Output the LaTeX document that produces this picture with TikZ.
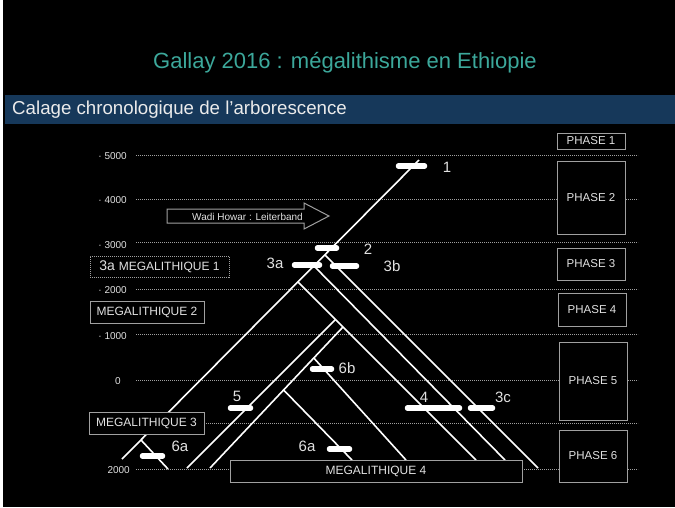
\documentclass[tikz,border=0pt]{standalone}
\usepackage{fontspec}
\setmainfont{Liberation Sans}
\definecolor{titlecol}{RGB}{60,168,155}
\definecolor{bannercol}{RGB}{22,56,90}
\definecolor{linegray}{RGB}{160,160,160}
\definecolor{txtgray}{RGB}{225,225,225}
\begin{document}
\begin{tikzpicture}[x=1pt,y=-1pt,
  tree/.style={white, line width=1.6pt},
  bar/.style={white, line width=5.5pt, line cap=round},
  grid/.style={linegray, line width=0.8pt, dash pattern=on 0.8pt off 1.2pt},
  pbox/.style={draw=linegray, line width=1pt, fill=black, text=txtgray, inner sep=0pt, font=\fontsize{11.5}{11.5}\selectfont},
  mbox/.style={draw=linegray, line width=1pt, fill=black, text=txtgray, inner sep=0pt, font=\fontsize{12}{12}\selectfont},
  num/.style={text=txtgray, inner sep=0pt, font=\fontsize{15}{15}\selectfont},
  ax/.style={text=txtgray, inner sep=0pt, font=\fontsize{10}{10}\selectfont}]
\useasboundingbox (0,0) rectangle (675,507);
\fill[black] (0,0) rectangle (675,507);
\fill[white] (0,0) rectangle (2.5,507);

% title and banner
\node[text=titlecol, font=\fontsize{22}{26}\selectfont, inner sep=0pt] (title) at (345,63) {Gallay 2016 : mégalithisme en Ethiopie};
\fill[bannercol] (5,95) rectangle (675,124);
\node[text=white!92!black, font=\fontsize{18.7}{20}\selectfont, inner sep=0pt, anchor=west] (banner) at (12,110) {Calage chronologique de l’arborescence};

% dotted time lines
\foreach \yy in {155,199,242,289,334,380,423,469}{
  \coordinate (gl\yy) at (136,\yy);
  \coordinate (gr\yy) at (638,\yy);
  \draw[grid] (gl\yy) -- (gr\yy);
}
\node[ax, anchor=east] (a5000) at (127,156) {· 5000};
\node[ax, anchor=east] (a4000) at (127,200) {· 4000};
\node[ax, anchor=east] (a3000) at (127,245) {· 3000};
\node[ax, anchor=east] (a2000) at (127,290) {· 2000};
\node[ax, anchor=east] (a1000) at (127,336) {· 1000};
\node[ax] (a0) at (118,381) {0};
\node[ax, anchor=east] (a2000b) at (130,470) {2000};

% Wadi Howar arrow
\draw[linegray, line width=1pt, fill=black] (167,209) -- (304,209) -- (304,203) -- (329,216) -- (304,229) -- (304,223) -- (167,223) -- cycle;
\node[text=txtgray, font=\fontsize{10}{10}\selectfont, inner sep=0pt] (wadi) at (247.5,216.5) {Wadi Howar : Leiterband};

% tree coordinates
\coordinate (T0) at (122,459);  \coordinate (T1) at (419,160);
\coordinate (C0) at (325,255);  \coordinate (C1) at (538,468);
\coordinate (B0) at (314,266);  \coordinate (B1) at (505,460);
\coordinate (A0) at (298,282);  \coordinate (A1) at (476,460);
\coordinate (P0) at (187,468);  \coordinate (P1) at (335.5,319.5);
\coordinate (Q0) at (210,468);  \coordinate (Q1) at (343,327);
\coordinate (D0) at (313.8,358); \coordinate (D1) at (406,460);
\coordinate (E0) at (283.6,390); \coordinate (E1) at (352,460);
\coordinate (F0) at (141,440);  \coordinate (F1) at (168,469);

\draw[tree] (T0) -- (T1);
\draw[tree] (C0) -- (C1);
\draw[tree] (B0) -- (B1);
\draw[tree] (A0) -- (A1);
\draw[tree] (P0) -- (P1);
\draw[tree] (Q0) -- (Q1);
\draw[tree] (D0) -- (D1);
\draw[tree] (E0) -- (E1);
\draw[tree] (F0) -- (F1);

% bars
\draw[bar] (398.5,166) -- (424.5,166);
\draw[bar] (317.5,248) -- (336.5,248);
\draw[bar] (294.5,265) -- (319.5,265);
\draw[bar] (332.5,266) -- (356.5,266);
\draw[bar] (230.5,408) -- (250.5,408);
\draw[bar] (407.5,408) -- (459.5,408);
\draw[bar] (470.5,408) -- (492.5,408);
\draw[bar] (312.5,369) -- (331.5,369);
\draw[bar] (329.5,449) -- (349.5,449);
\draw[bar] (142.5,456) -- (162.5,456);

% bar labels
\node[num] (l1) at (447,167) {1};
\node[num] (l2) at (368,249) {2};
\node[num] (l3a) at (275,263) {3a};
\node[num] (l3b) at (392,266) {3b};
\node[num] (l5) at (237,396) {5};
\node[num] (l6b) at (347,368) {6b};
\node[num] (l4) at (424,397) {4};
\node[num] (l3c) at (503,397) {3c};
\node[num] (l6ar) at (307,446) {6a};
\node[num] (l6al) at (180,446) {6a};

% phase boxes
\node[pbox, minimum width=68pt, minimum height=16pt] (p1) at (591,141) {PHASE 1};
\node[pbox, minimum width=68pt, minimum height=73pt] (p2) at (591,197.5) {PHASE 2};
\node[pbox, minimum width=68pt, minimum height=32pt] (p3) at (591,264) {PHASE 3};
\node[pbox, minimum width=68pt, minimum height=33pt] (p4) at (592,309.5) {PHASE 4};
\node[pbox, minimum width=68pt, minimum height=78pt] (p5) at (593,381) {PHASE 5};
\node[pbox, minimum width=68pt, minimum height=52pt] (p6) at (593,456) {PHASE 6};

% megalithique boxes
\node[mbox, dash pattern=on 1pt off 1pt, minimum width=139pt, minimum height=21pt] (m1) at (159.5,266.5) {\fontsize{14}{14}\selectfont 3a\ \fontsize{12}{12}\selectfont MEGALITHIQUE 1};
\node[mbox, minimum width=114pt, minimum height=22pt] (m2) at (147,312) {MEGALITHIQUE 2};
\node[mbox, minimum width=115pt, minimum height=22pt] (m3) at (146.5,423) {MEGALITHIQUE 3};
\node[mbox, minimum width=292pt, minimum height=22pt] (m4) at (376,471) {MEGALITHIQUE 4};
\end{tikzpicture}
\end{document}
